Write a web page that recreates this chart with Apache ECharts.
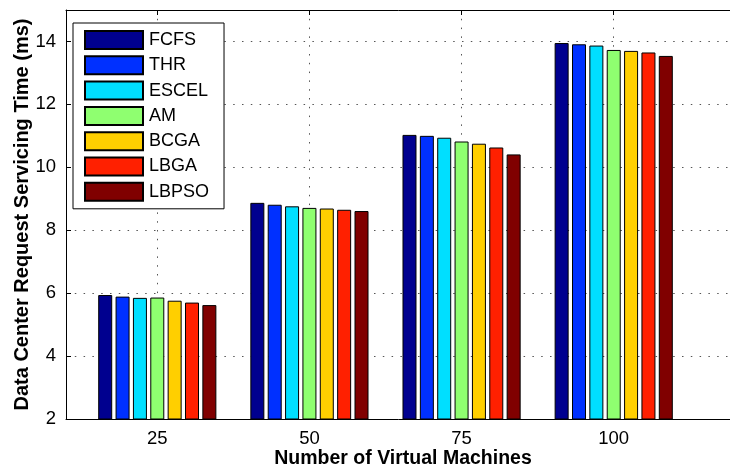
<!DOCTYPE html>
<html>
<head>
<meta charset="utf-8">
<script src="https://cdn.jsdelivr.net/npm/echarts@6/dist/echarts.min.js"></script>
<style>html,body{margin:0;padding:0;background:#fff;}#c{width:730px;height:467px;}</style>
</head>
<body>
<div id="c"></div>
<script>
var categories = ['25', '50', '75', '100'];
var categoryPositions = [1, 2, 3, 4];
var seriesNames = ['FCFS', 'THR', 'ESCEL', 'AM', 'BCGA', 'LBGA', 'LBPSO'];
var FCFS  = [5.94, 8.87, 11.03, 13.95];
var THR   = [5.89, 8.81, 11.00, 13.91];
var ESCEL = [5.85, 8.76, 10.94, 13.87];
var AM    = [5.86, 8.71, 10.82, 13.73];
var BCGA  = [5.76, 8.69, 10.75, 13.70];
var LBGA  = [5.70, 8.65, 10.63, 13.65];
var LBPSO = [5.62, 8.61, 10.41, 13.54];
var yTicks = [2, 4, 6, 8, 10, 12, 14];
var colors = ['#00008F', '#0030FF', '#00DFFF', '#8FFF70', '#FFCF00', '#FF2000', '#800000'];
var allValues = [FCFS, THR, ESCEL, AM, BCGA, LBGA, LBPSO];

var FONT = "'Liberation Sans', Arial, Helvetica, sans-serif";
var dotted = { color: '#555', width: 1, type: [1.5, 7.3] };

var chart = echarts.init(document.getElementById('c'), null, { renderer: 'canvas' });

var series = seriesNames.map(function (name, i) {
  return {
    name: name,
    type: 'bar',
    barWidth: 14,
    barGap: '24%',
    data: categoryPositions.map(function (x, j) { return [x, allValues[i][j]]; }),
    itemStyle: { color: colors[i], borderColor: '#000', borderWidth: 1 },
    emphasis: { disabled: true },
    animation: false
  };
});

chart.setOption({
  animation: false,
  textStyle: { fontFamily: FONT },
  grid: { left: 66, top: 10, right: -10, bottom: 48, show: false, containLabel: false, outerBoundsMode: 'none' },
  legend: {
    orient: 'vertical',
    left: 73, top: 23,
    data: seriesNames,
    itemWidth: 58, itemHeight: 18, itemGap: 5.3,
    padding: [7, 15, 7, 11],
    borderColor: '#000', borderWidth: 1, backgroundColor: '#fff',
    icon: 'rect',
    selectedMode: false,
    textStyle: { fontSize: 18, color: '#000', fontFamily: FONT, lineHeight: 18, padding: [0, 0, 0, 1] }
  },
  xAxis: [{
    type: 'value',
    min: 0.4, max: 4.83,
    position: 'bottom',
    name: 'Number of Virtual Machines',
    nameLocation: 'middle',
    nameGap: 30,
    nameMoveOverlap: false,
    nameTextStyle: { fontSize: 19.5, fontWeight: 'bold', color: '#000', fontFamily: FONT },
    axisLine: { show: true, lineStyle: { color: '#000', width: 1 } },
    axisTick: { show: true, inside: true, length: 5, customValues: categoryPositions, lineStyle: { color: '#000' } },
    axisLabel: {
      customValues: categoryPositions,
      formatter: function (v) { var k = categoryPositions.indexOf(Math.round(v)); return k >= 0 ? categories[k] : ''; },
      fontSize: 18.5, color: '#000', margin: 10.5, fontFamily: FONT
    },
    splitLine: { show: true, lineStyle: dotted }
  }, {
    type: 'value',
    min: 0.4, max: 4.83,
    position: 'top',
    axisLine: { show: true, lineStyle: { color: '#000', width: 1 } },
    axisTick: { show: true, inside: true, length: 5, customValues: categoryPositions, lineStyle: { color: '#000' } },
    axisLabel: { show: false },
    splitLine: { show: false }
  }],
  yAxis: {
    type: 'value',
    min: 2, max: 15, interval: 2,
    name: 'Data Center Request Servicing Time (ms)',
    nameLocation: 'middle',
    nameGap: 34,
    nameMoveOverlap: false,
    nameTextStyle: { fontSize: 20, fontWeight: 'bold', color: '#000', fontFamily: FONT },
    axisLine: { show: true, lineStyle: { color: '#000', width: 1 } },
    axisTick: { show: true, inside: true, length: 5, customValues: yTicks, lineStyle: { color: '#000' } },
    axisLabel: { customValues: yTicks, fontSize: 18.5, color: '#000', margin: 10, fontFamily: FONT },
    splitLine: { show: true, lineStyle: dotted }
  },
  series: series
});
</script>
</body>
</html>
